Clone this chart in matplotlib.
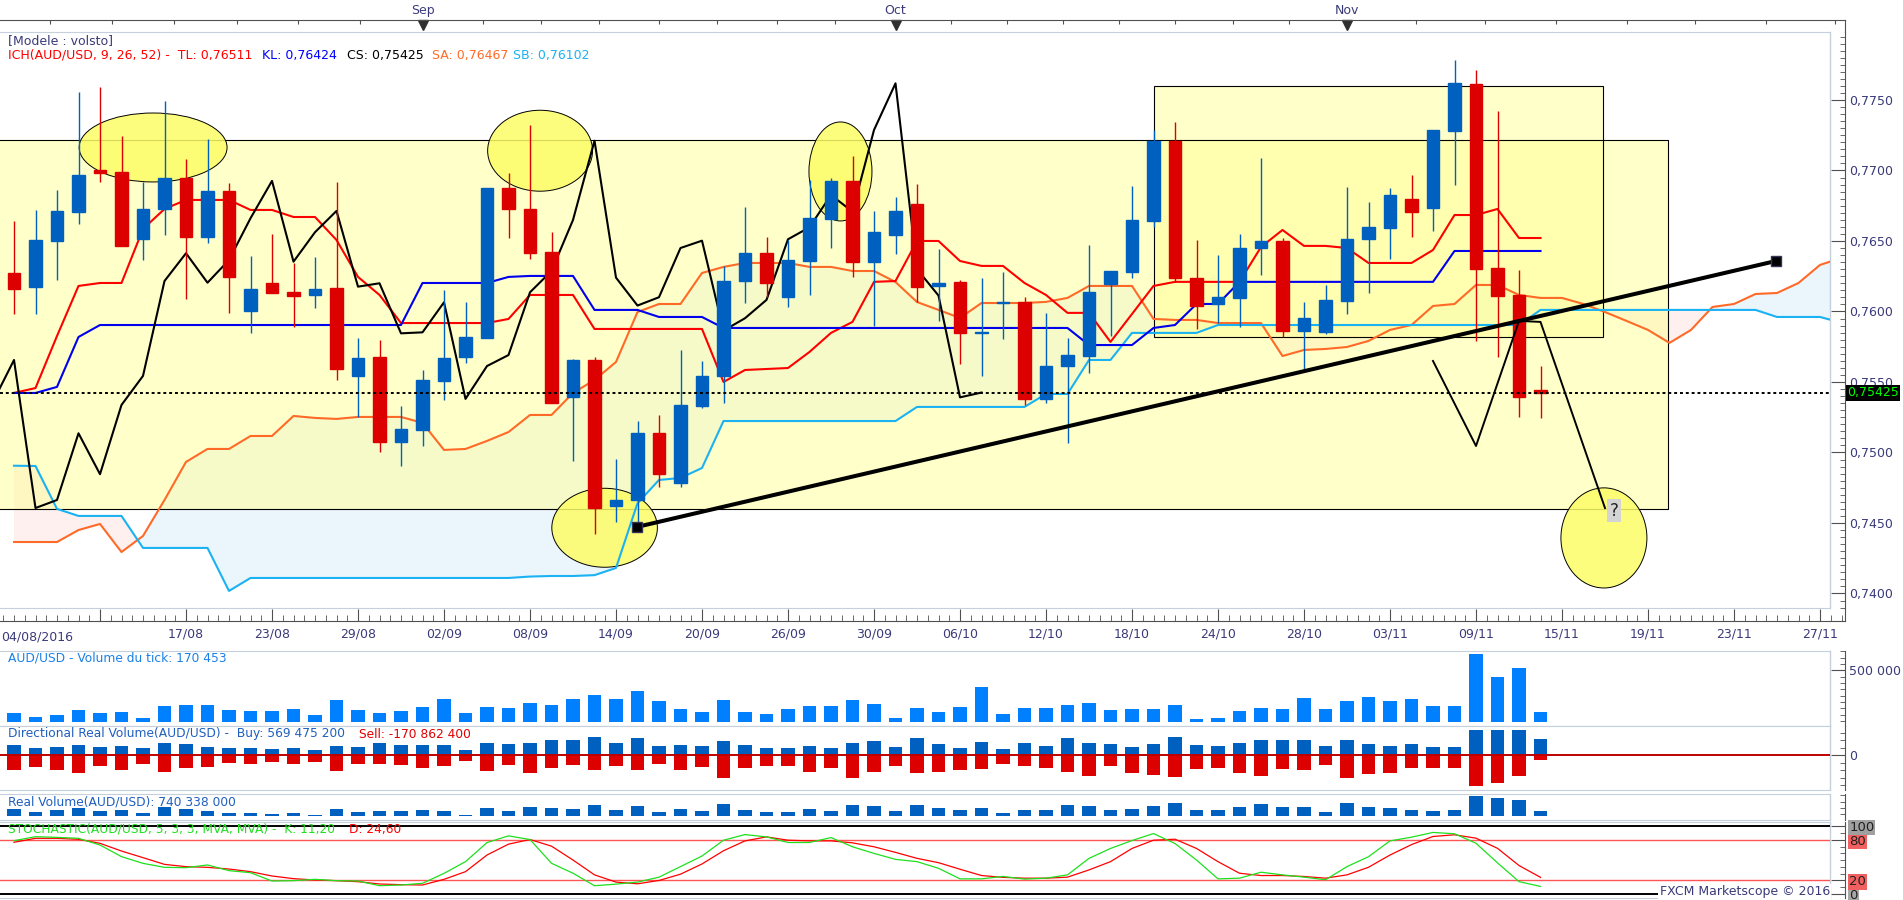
import numpy as np
import matplotlib
matplotlib.use("Agg")
import matplotlib.pyplot as plt
from matplotlib.patches import Rectangle, Ellipse
from matplotlib.ticker import MultipleLocator, FixedLocator, FuncFormatter, NullFormatter

# ---------------- data (AUD/USD daily, 05/08/2016 -> 14/11/2016) ----------------
opens = [0.76273, 0.76174, 0.76500, 0.76706, 0.77004, 0.76990, 0.76514, 0.76727, 0.76947, 0.76528,
         0.76855, 0.76004, 0.76202, 0.76138, 0.76117, 0.76167, 0.75543, 0.75677, 0.75074, 0.75160,
         0.75507, 0.75677, 0.75812, 0.76876, 0.76725, 0.76420, 0.75392, 0.75656, 0.74623, 0.74663,
         0.75136, 0.74782, 0.75330, 0.75540, 0.76219, 0.76413, 0.76105, 0.76360, 0.76656, 0.76926,
         0.76353, 0.76543, 0.76760, 0.76184, 0.76207, 0.75845, 0.76060, 0.76069, 0.75377, 0.75610,
         0.75687, 0.76195, 0.76280, 0.76644, 0.77211, 0.76240, 0.76053, 0.76098, 0.76450, 0.76502,
         0.75864, 0.75855, 0.76077, 0.76512, 0.76594, 0.76796, 0.76736, 0.77282, 0.77611, 0.76306,
         0.76117, 0.75443]
highs = [0.76642, 0.76720, 0.76862, 0.77559, 0.77592, 0.77245, 0.76918, 0.77493, 0.77082, 0.77223,
         0.76911, 0.76394, 0.76550, 0.76344, 0.76387, 0.76918, 0.75812, 0.75798, 0.75330, 0.75585,
         0.76152, 0.76067, 0.76876, 0.76982, 0.77323, 0.76562, 0.75663, 0.75677, 0.74952, 0.75223,
         0.75266, 0.75727, 0.75649, 0.76320, 0.76739, 0.76526, 0.76507, 0.76933, 0.76947, 0.77103,
         0.76715, 0.76814, 0.76904, 0.76441, 0.76226, 0.76240, 0.76283, 0.76100, 0.75987, 0.75810,
         0.76472, 0.76290, 0.76890, 0.77287, 0.77342, 0.76507, 0.76401, 0.76550, 0.77086, 0.76521,
         0.76070, 0.76188, 0.76881, 0.76779, 0.76874, 0.76968, 0.77290, 0.77784, 0.77713, 0.77422,
         0.76294, 0.75613]
lows = [0.75982, 0.75982, 0.76223, 0.76621, 0.76918, 0.76465, 0.76365, 0.76543, 0.76089, 0.76486,
        0.75990, 0.75848, 0.76131, 0.75890, 0.76025, 0.75514, 0.75252, 0.75004, 0.74904, 0.75046,
        0.75372, 0.75635, 0.75812, 0.76521, 0.76370, 0.75353, 0.74940, 0.74424, 0.74510, 0.74500,
        0.74758, 0.74758, 0.75316, 0.75350, 0.76058, 0.76105, 0.76034, 0.76117, 0.76450, 0.76243,
        0.75900, 0.76408, 0.76070, 0.75935, 0.75625, 0.75540, 0.75805, 0.75337, 0.75350, 0.75070,
        0.75566, 0.75826, 0.76238, 0.76602, 0.76212, 0.75876, 0.75916, 0.75892, 0.76259, 0.75820,
        0.75585, 0.75840, 0.75982, 0.76129, 0.76370, 0.76526, 0.76573, 0.76897, 0.75793, 0.75680,
        0.75254, 0.75245]
closes = [0.76160, 0.76507, 0.76713, 0.76968, 0.76982, 0.76465, 0.76727, 0.76947, 0.76528, 0.76855,
          0.76245, 0.76160, 0.76131, 0.76110, 0.76160, 0.75592, 0.75670, 0.75074, 0.75167, 0.75514,
          0.75670, 0.75820, 0.76876, 0.76727, 0.76417, 0.75353, 0.75656, 0.74606, 0.74663, 0.75136,
          0.74846, 0.75337, 0.75543, 0.76216, 0.76413, 0.76204, 0.76365, 0.76661, 0.76926, 0.76353,
          0.76562, 0.76713, 0.76176, 0.76200, 0.75845, 0.75852, 0.76065, 0.75380, 0.75613, 0.75691,
          0.76136, 0.76287, 0.76649, 0.77211, 0.76240, 0.76042, 0.76101, 0.76450, 0.76502, 0.75864,
          0.75952, 0.76082, 0.76512, 0.76597, 0.76826, 0.76708, 0.77287, 0.77618, 0.76300, 0.76113,
          0.75391, 0.75425]

tenkan = [0.75422, 0.75457, 0.75826, 0.76181, 0.76202, 0.76202, 0.76585, 0.76727, 0.76791, 0.76791,
          0.76791, 0.76720, 0.76720, 0.76670, 0.76670, 0.76507, 0.76245, 0.76117, 0.75918, 0.75918,
          0.75918, 0.75918, 0.75918, 0.75947, 0.76117, 0.76117, 0.76117, 0.75876, 0.75876, 0.75876,
          0.75876, 0.75876, 0.75876, 0.75500, 0.75585, 0.75592, 0.75599, 0.75713, 0.75848, 0.75926,
          0.76210, 0.76216, 0.76500, 0.76500, 0.76358, 0.76323, 0.76323, 0.76202, 0.76117, 0.75990,
          0.75990, 0.75784, 0.75982, 0.76181, 0.76210, 0.76210, 0.76210, 0.76210, 0.76457, 0.76578,
          0.76465, 0.76465, 0.76450, 0.76344, 0.76344, 0.76344, 0.76436, 0.76684, 0.76684, 0.76727,
          0.76521, 0.76521]
kijun = [0.75422, 0.75422, 0.75465, 0.75819, 0.75904, 0.75904, 0.75904, 0.75904, 0.75904, 0.75904,
         0.75904, 0.75904, 0.75904, 0.75904, 0.75904, 0.75904, 0.75904, 0.75904, 0.75904, 0.76202,
         0.76202, 0.76202, 0.76202, 0.76245, 0.76252, 0.76252, 0.76252, 0.76011, 0.76011, 0.76011,
         0.75961, 0.75961, 0.75961, 0.75883, 0.75883, 0.75883, 0.75883, 0.75883, 0.75883, 0.75883,
         0.75883, 0.75883, 0.75883, 0.75883, 0.75883, 0.75883, 0.75883, 0.75883, 0.75883, 0.75883,
         0.75762, 0.75762, 0.75762, 0.75883, 0.75904, 0.76053, 0.76053, 0.76210, 0.76210, 0.76210,
         0.76210, 0.76210, 0.76210, 0.76210, 0.76210, 0.76210, 0.76210, 0.76429, 0.76429, 0.76429,
         0.76429, 0.76429]
senkou_a = [0.74365, 0.74365, 0.74365, 0.74450, 0.74493, 0.74294, 0.74408, 0.74663, 0.74933, 0.75025,
            0.75025, 0.75117, 0.75117, 0.75259, 0.75245, 0.75238, 0.75252, 0.75252, 0.75252, 0.75210,
            0.75018, 0.75025, 0.75082, 0.75145, 0.75266, 0.75266, 0.75422, 0.75514, 0.75642, 0.75996,
            0.76053, 0.76053, 0.76273, 0.76316, 0.76344, 0.76344, 0.76344, 0.76316, 0.76316, 0.76287,
            0.76287, 0.76209, 0.76067, 0.76011, 0.75954, 0.76060, 0.76060, 0.76060, 0.76068, 0.76096,
            0.76181, 0.76181, 0.76181, 0.75947, 0.75940, 0.75940, 0.75918, 0.75918, 0.75918, 0.75684,
            0.75727, 0.75734, 0.75748, 0.75791, 0.75869, 0.75904, 0.76039, 0.76053, 0.76188, 0.76188,
            0.76117, 0.76096, 0.76096, 0.76053, 0.75996, 0.75933, 0.75869, 0.75777, 0.75869, 0.76032,
            0.76053, 0.76124, 0.76131, 0.76202, 0.76330, 0.76380]
senkou_b = [0.74906, 0.74904, 0.74600, 0.74550, 0.74550, 0.74550, 0.74323, 0.74323, 0.74323, 0.74323,
            0.74018, 0.74110, 0.74110, 0.74110, 0.74110, 0.74110, 0.74110, 0.74110, 0.74110, 0.74110,
            0.74110, 0.74110, 0.74110, 0.74110, 0.74120, 0.74124, 0.74124, 0.74130, 0.74181, 0.74640,
            0.74805, 0.74819, 0.74890, 0.75223, 0.75223, 0.75223, 0.75223, 0.75223, 0.75223, 0.75223,
            0.75223, 0.75223, 0.75323, 0.75323, 0.75323, 0.75323, 0.75323, 0.75323, 0.75415, 0.75415,
            0.75656, 0.75656, 0.75848, 0.75848, 0.75848, 0.75848, 0.75904, 0.75904, 0.75904, 0.75904,
            0.75904, 0.75904, 0.75904, 0.75904, 0.75904, 0.75904, 0.75904, 0.75904, 0.75904, 0.75904,
            0.75904, 0.76011, 0.76011, 0.76011, 0.76011, 0.76011, 0.76011, 0.76011, 0.76011, 0.76011,
            0.76011, 0.76011, 0.75961, 0.75961, 0.75961, 0.75920]

tick_volume = [162000, 131000, 146000, 186000, 162000, 170000, 123000, 217000, 225000, 225000,
               186000, 178000, 178000, 194000, 146000, 265000, 186000, 162000, 178000, 210000,
               273000, 162000, 210000, 202000, 241000, 225000, 273000, 304000, 273000, 336000,
               257000, 194000, 170000, 265000, 170000, 154000, 194000, 217000, 217000, 265000,
               233000, 123000, 202000, 170000, 210000, 368000, 154000, 202000, 202000, 225000,
               241000, 186000, 194000, 194000, 225000, 115000, 123000, 178000, 202000, 194000,
               281000, 194000, 257000, 289000, 257000, 273000, 217000, 217000, 628000, 447000,
               518000, 170453]
# directional real volume, millions
buy_volume = [349, 263, 299, 371, 299, 335, 263, 443, 407, 299,
              263, 263, 227, 263, 191, 335, 299, 443, 371, 371,
              371, 191, 432, 396, 432, 540, 540, 648, 432, 612,
              324, 360, 324, 504, 360, 252, 252, 324, 252, 432,
              504, 288, 612, 396, 252, 468, 216, 432, 324, 612,
              432, 396, 288, 396, 648, 360, 324, 432, 540, 540,
              540, 324, 540, 396, 324, 396, 288, 288, 911, 911,
              911, 569.4752]
sell_volume = [-529, -421, -529, -637, -385, -529, -313, -601, -457, -421,
               -277, -313, -241, -313, -241, -565, -313, -313, -349, -457,
               -385, -205, -565, -360, -637, -457, -360, -529, -385, -529,
               -313, -529, -421, -817, -457, -385, -385, -601, -457, -817,
               -601, -385, -637, -601, -529, -493, -313, -385, -457, -601,
               -745, -385, -637, -709, -781, -493, -457, -637, -745, -493,
               -529, -349, -817, -673, -637, -457, -457, -457, -1098, -990,
               -767, -170.8624]
real_volume = [901, 659, 821, 982, 740, 821, 579, 1062, 901, 740,
               579, 579, 498, 579, 418, 901, 659, 740, 740, 821,
               740, 418, 982, 740, 1062, 982, 901, 1224, 821, 1143,
               659, 901, 740, 1304, 821, 659, 659, 901, 740, 1224,
               1143, 740, 1224, 982, 821, 982, 579, 821, 821, 1224,
               1143, 821, 901, 1143, 1385, 821, 821, 1062, 1304, 1062,
               1062, 659, 1385, 1062, 982, 821, 740, 821, 1949, 1788,
               1627, 740.338]
stoch_k = [78.8, 84.7, 83.7, 82.3, 72.4, 55.2, 45.3, 39.4, 38.9, 42.9,
           34.5, 31.5, 19.2, 19.7, 21.7, 19.7, 19.2, 12.3, 13.3, 15.8,
           30.5, 47.8, 76.0, 85.9, 80.5, 45.4, 30.7, 12.2, 14.6, 17.6,
           24.9, 40.5, 56.1, 79.5, 87.8, 84.4, 76.1, 76.1, 83.4, 69.8,
           60.0, 51.2, 47.8, 38.0, 22.4, 22.4, 26.0, 22.0, 23.4, 28.3,
           52.7, 67.3, 79.0, 89.3, 74.6, 50.2, 22.4, 23.4, 32.2, 28.3,
           24.9, 21.0, 40.5, 55.1, 78.5, 84.0, 91.0, 89.0, 75.0, 46.0,
           18.3, 11.2]
stoch_d = [76.4, 82.3, 82.3, 80.8, 74.9, 63.5, 53.7, 43.8, 40.4, 39.4,
           36.9, 33.0, 26.6, 22.7, 20.7, 19.7, 18.2, 14.8, 13.8, 13.3,
           21.7, 33.0, 57.6, 73.7, 80.5, 70.7, 50.2, 28.3, 17.6, 15.1,
           20.0, 29.3, 44.4, 63.9, 78.5, 84.4, 79.5, 78.5, 78.5, 75.6,
           69.8, 61.5, 52.7, 46.3, 36.6, 27.3, 24.6, 23.4, 23.4, 24.9,
           35.6, 47.8, 67.3, 79.5, 81.0, 67.3, 47.8, 30.7, 27.3, 27.3,
           25.9, 23.4, 28.3, 39.5, 57.6, 73.0, 85.0, 87.5, 82.5, 67.5,
           42.1, 24.6]

date_ticks = [8, 12, 16, 20, 24, 28, 32, 36, 40, 44, 48, 52, 56, 60, 64, 68, 72, 76, 80, 84]
date_labels = ['17/08', '23/08', '29/08', '02/09', '08/09', '14/09', '20/09', '26/09', '30/09', '06/10',
               '12/10', '18/10', '24/10', '28/10', '03/11', '09/11', '15/11', '19/11', '23/11', '27/11']
month_names = ['Sep', 'Oct', 'Nov']
month_pos = [19, 41, 62]
top_ticks = [1.67, 4.56, 7.44, 10.37, 13.2, 16.1, 19, 21.8, 24.5, 27.2, 30, 32.7, 35.5, 38.2, 41,
             43.6, 46.2, 48.8, 51.4, 54, 56.7, 59.3, 62, 65.2, 68.4, 71.7, 75, 78.2, 81.5, 84.7]

# drawings on the chart (bar index, price)
boxes = [(-5, 76.93, 0.74600, 0.77214), (53.0, 73.92, 0.75817, 0.77597)]
circles = [(6.47, 0.77163, 6.88, 0.00489), (24.47, 0.77140, 4.88, 0.00574),
           (38.44, 0.76993, 2.93, 0.00702), (27.47, 0.74466, 4.91, 0.00560),
           (73.95, 0.74394, 4.00, 0.00710)]
trend_x = [28.98, 81.95]
trend_y = [0.74472, 0.76358]
zig_x = [66, 68, 70, 71, 74]
zig_y = [0.75649, 0.75046, 0.75933, 0.75926, 0.74606]

# ---------------- layout ----------------
W, H = 1903, 900
plt.rcParams['font.family'] = ['DejaVu Sans']
TXT = '#3a3a7a'
GRID = '#c6d0dc'
AXC = '#505050'
BLUE = '#0060bf'
RED = '#dd0000'

fig = plt.figure(figsize=(W / 100, H / 100), dpi=100)


def pane(x0, y0, x1, y1):
    return fig.add_axes([x0 / W, 1 - y1 / H, (x1 - x0) / W, (y1 - y0) / H])


def ftxt(x, y, s, **kw):
    kw.setdefault('fontsize', 8.8)
    fig.text(x / W, 1 - y / H, s, va='center', **kw)


X0 = -14 / 21.5
X1 = (1830 - 14) / 21.5
X1_AX = (1845 - 14) / 21.5
n = len(closes)
idx = np.arange(n)


def style_pane(ax):
    ax.set_xlim(X0, X1)
    for s in ('top', 'bottom'):
        ax.spines[s].set_color(GRID)
    ax.spines['left'].set_visible(False)
    ax.spines['right'].set_position(('outward', 10.8))
    ax.spines['right'].set_color(AXC)
    ax.plot([1, 1], [0, 1], transform=ax.transAxes, color=GRID, lw=1, clip_on=False)
    ax.set_xticks([])
    ax.yaxis.tick_right()
    ax.tick_params(axis='y', which='both', direction='in', colors=AXC, labelcolor=TXT,
                   labelsize=9, pad=3)
    ax.tick_params(axis='y', which='major', length=10)
    ax.tick_params(axis='y', which='minor', length=3.6)


# ---------------- main price pane ----------------
ax = pane(0, 32, 1830, 608)
style_pane(ax)
ax.set_ylim(0.73897, 0.77982)

fx = np.arange(len(senkou_a))
sa = np.array(senkou_a)
sb = np.array(senkou_b)
ax.fill_between(fx, sa, sb, where=sa >= sb, interpolate=True, color='#ebf5fc', lw=0, zorder=1)
ax.fill_between(fx, sa, sb, where=sa < sb, interpolate=True, color='#fdf0ee', lw=0, zorder=1)

for xa, xb, ya, yb in boxes:
    ax.add_patch(Rectangle((xa, ya), xb - xa, yb - ya, facecolor='#ffff96', alpha=0.5,
                           edgecolor='none', zorder=2))
    ax.add_patch(Rectangle((xa, ya), xb - xa, yb - ya, facecolor='none', edgecolor='black',
                           lw=0.8, zorder=2.1))
for cx, cy, w, h in circles:
    ax.add_patch(Ellipse((cx, cy), w, h, facecolor='#fdfd66', alpha=0.85, edgecolor='none', zorder=3))
    ax.add_patch(Ellipse((cx, cy), w, h, facecolor='none', edgecolor='black', lw=0.7, zorder=3.1))

ax.plot(fx, sa, color='#ff6a28', lw=1.5, zorder=4)
ax.plot(fx, sb, color='#1ab2f2', lw=1.5, zorder=4)
ax.plot(idx, tenkan, color='#ff0000', lw=1.5, zorder=4)
ax.plot(idx, kijun, color='#0000ee', lw=1.5, zorder=4)
ax.plot(idx - 26, closes, color='black', lw=1.5, zorder=4)

o = np.array(opens)
c = np.array(closes)
up = c >= o
cols = np.where(up, BLUE, RED)
ax.vlines(idx, lows, highs, colors=cols, lw=1, zorder=5)
ax.bar(idx, np.abs(c - o), bottom=np.minimum(o, c), width=0.6, color=cols, edgecolor=cols,
       lw=1.0, zorder=5.1)

ax.axhline(closes[-1], color='black', lw=1.4, ls=(0, (1.5, 1.5)), zorder=6)
ax.plot(trend_x, trend_y, color='black', lw=2.9, zorder=7, solid_capstyle='butt')
ax.plot(trend_x, trend_y, ls='none', marker='s', ms=7, mfc='black', mec='#34345a', mew=1, zorder=8)
ax.plot(zig_x, zig_y, color='black', lw=1.4, zorder=7)
ax.text(74.42, 0.74585, '?', ha='center', va='center', fontsize=12, color='#202020',
        bbox=dict(boxstyle='square,pad=0.15', fc='#d4d4d4', ec='none'), zorder=9)

ax.yaxis.set_major_locator(MultipleLocator(0.005))
ax.yaxis.set_minor_locator(MultipleLocator(0.0005))
ax.yaxis.set_major_formatter(FuncFormatter(lambda v, p: f"{v:.4f}".replace('.', ',')))
ax.text(1847 / 1830, closes[-1], f"{closes[-1]:.5f}".replace('.', ','),
        transform=ax.get_yaxis_transform(), ha='left', va='center', color='#00ff00', fontsize=9,
        bbox=dict(boxstyle='square,pad=0.12', fc='black', ec='none'), zorder=20, clip_on=False)

ftxt(8, 41, '[Modele : volsto]', color=TXT, fontsize=9)
ftxt(8, 55, 'ICH(AUD/USD, 9, 26, 52) -  TL: 0,76511', color='#ff0000', fontsize=9)
ftxt(262, 55, 'KL: 0,76424', color='#0000ff', fontsize=9)
ftxt(347, 55, 'CS: 0,75425', color='black', fontsize=9)
ftxt(432, 55, 'SA: 0,76467', color='#ff6a28', fontsize=9)
ftxt(513, 55, 'SB: 0,76102', color='#1ab2f2', fontsize=9)

# ---------------- top month axis ----------------
ax_top = pane(0, 20, 1845, 32)
ax_top.set_xlim(X0, X1_AX)
ax_top.set_ylim(0, 1)
ax_top.patch.set_alpha(0)
for s in ('bottom', 'left'):
    ax_top.spines[s].set_visible(False)
ax_top.spines['top'].set_color(AXC)
ax_top.spines['right'].set_color(AXC)
ax_top.set_yticks([])
ax_top.xaxis.tick_top()
ax_top.set_xticks(top_ticks)
ax_top.tick_params(axis='x', direction='in', length=3, color=AXC, labeltop=False)
for m, pos in zip(month_names, month_pos):
    ax_top.text(pos, 1.83, m, transform=ax_top.get_xaxis_transform(), ha='center', va='center',
                color=TXT, fontsize=9, clip_on=False)
    ax_top.plot([pos], [0.62], marker='v', ms=6.5, color='#303030',
                transform=ax_top.get_xaxis_transform(), clip_on=False)

# ---------------- date axis ----------------
ax_date = pane(0, 608, 1845, 621)
ax_date.set_xlim(X0, X1_AX)
ax_date.set_ylim(0, 1)
ax_date.patch.set_alpha(0)
for s in ('top', 'left'):
    ax_date.spines[s].set_visible(False)
ax_date.spines['bottom'].set_color(AXC)
ax_date.spines['right'].set_color(AXC)
ax_date.set_yticks([])
ax_date.xaxis.set_major_locator(FixedLocator([4] + date_ticks))
ax_date.set_xticklabels([''] + date_labels)
ax_date.xaxis.set_minor_locator(MultipleLocator(0.5))
ax_date.xaxis.set_minor_formatter(NullFormatter())
ax_date.tick_params(axis='x', which='major', direction='in', length=8.6, color=AXC,
                    labelcolor=TXT, labelsize=9, pad=5)
ax_date.tick_params(axis='x', which='minor', direction='in', length=4.3, color=AXC)
ftxt(1, 637, '04/08/2016', color=TXT, fontsize=9)

# ---------------- tick volume ----------------
VOL_BASE = 91000
ax_v = pane(0, 651, 1830, 726)
style_pane(ax_v)
ax_v.set_ylim(VOL_BASE - 4 * 7900, VOL_BASE + 71 * 7900)
ax_v.bar(idx, np.array(tick_volume) - VOL_BASE, bottom=VOL_BASE, width=0.65, color='#0080ff')
ax_v.yaxis.set_major_locator(FixedLocator([500000]))
ax_v.yaxis.set_major_formatter(FuncFormatter(lambda v, p: f"{int(v):,}".replace(',', ' ')))
ax_v.yaxis.set_minor_locator(MultipleLocator(50000))
ftxt(8, 658, 'AUD/USD - Volume du tick: 170 453', color='#1a80e8')

# ---------------- directional real volume ----------------
ax_d = pane(0, 726, 1830, 790)
style_pane(ax_d)
ax_d.set_ylim(-1260, 1044)
ax_d.bar(idx, buy_volume, width=0.65, color=BLUE)
ax_d.bar(idx, sell_volume, width=0.65, color=RED)
ax_d.axhline(0, color='#c00000', lw=1.4)
ax_d.yaxis.set_major_locator(FixedLocator([0]))
ax_d.yaxis.set_major_formatter(FuncFormatter(lambda v, p: '0'))
ax_d.yaxis.set_minor_locator(MultipleLocator(270))
ftxt(8, 734, 'Directional Real Volume(AUD/USD) -  Buy: 569 475 200', color='#1f5fbf')
ftxt(359, 734, 'Sell: -170 862 400', color='#e00000')

# ---------------- real volume ----------------
RV_BASE = 337
ax_r = pane(0, 794, 1830, 820)
style_pane(ax_r)
ax_r.set_ylim(RV_BASE - 4 * 80.6, RV_BASE + 22 * 80.6)
ax_r.bar(idx, np.array(real_volume) - RV_BASE, bottom=RV_BASE, width=0.65, color=BLUE)
ax_r.yaxis.set_major_locator(FixedLocator([]))
ax_r.yaxis.set_minor_locator(MultipleLocator(500))
ftxt(8, 802, 'Real Volume(AUD/USD): 740 338 000', color='#1f5fbf')

# ---------------- stochastic ----------------
ax_s = pane(0, 822, 1830, 898)
style_pane(ax_s)
ax_s.set_ylim(-5.9, 106.4)
ax_s.axhline(100, color='black', lw=1.4)
ax_s.axhline(0, color='black', lw=1.4)
ax_s.axhline(80, color='#ff5555', lw=1)
ax_s.axhline(20, color='#ff5555', lw=1)
ax_s.plot(idx, stoch_d, color='#ff0000', lw=0.9)
ax_s.plot(idx, stoch_k, color='#1ee01e', lw=0.9)
ax_s.yaxis.set_major_locator(FixedLocator([0, 20, 80, 100]))
ax_s.yaxis.set_major_formatter(FuncFormatter(lambda v, p: f"{int(round(v))}"))
ax_s.yaxis.set_minor_locator(MultipleLocator(10))
ax_s.tick_params(axis='y', labelcolor='#202020', labelsize=9.5)
for lab, fc in zip(ax_s.get_yticklabels(), ['#a8a8a8', '#f06060', '#f06060', '#a0a0a0']):
    lab.set_bbox(dict(boxstyle='square,pad=0.08', fc=fc, ec='none'))
ftxt(8, 829, 'STOCHASTIC(AUD/USD, 5, 3, 3, MVA, MVA) -  K: 11,20', color='#22dd22')
ftxt(349, 829, 'D: 24,60', color='#ff0000')

fig.text(1830 / W, 1 - 892 / H, 'FXCM Marketscope \u00a9 2016', ha='right', va='center',
         fontsize=9, color=TXT, bbox=dict(fc='white', ec='none', pad=1))

fig.savefig('out.png', dpi=100)
